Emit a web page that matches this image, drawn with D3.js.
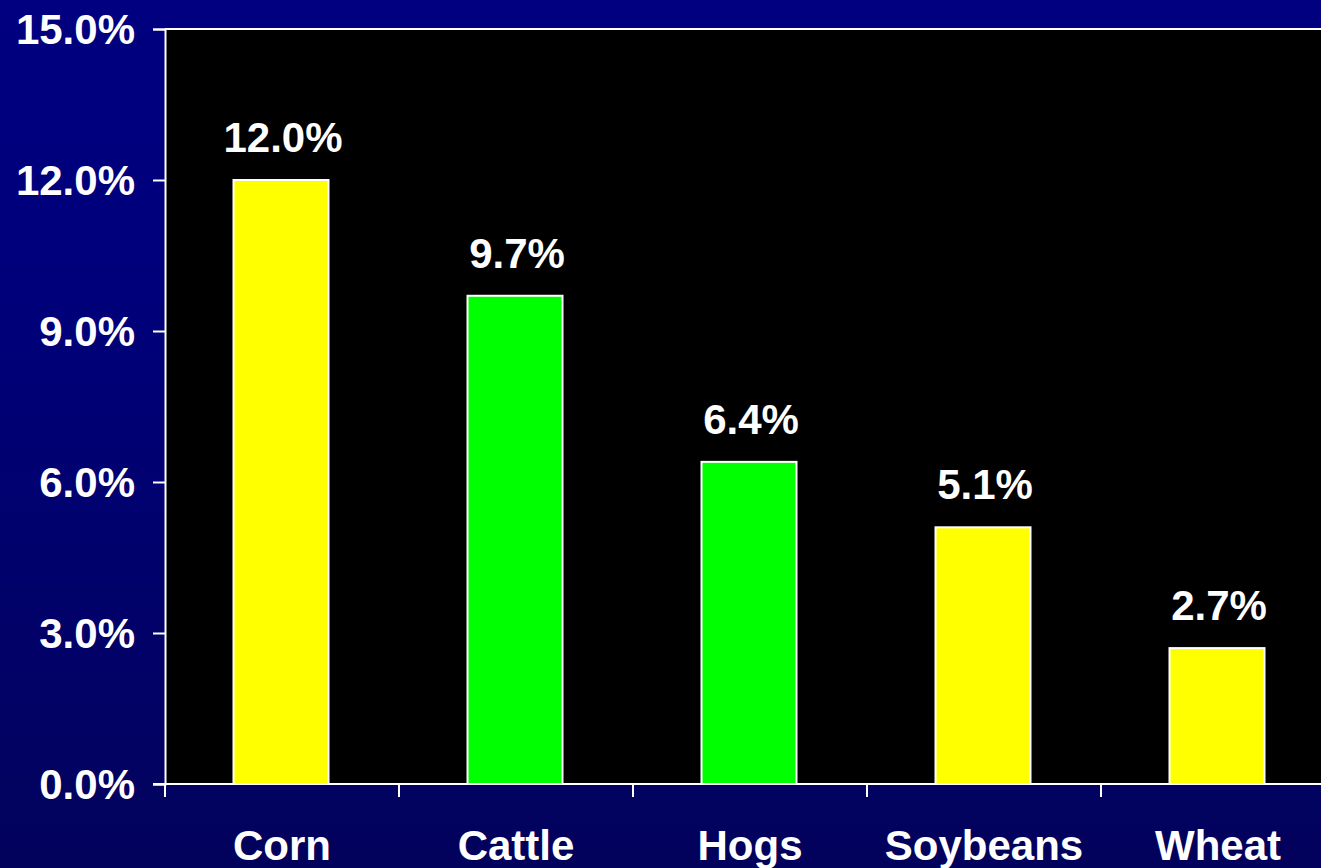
<!DOCTYPE html>
<html><head><meta charset="utf-8">
<script src="https://cdn.jsdelivr.net/npm/d3@7"></script>
<style>html,body{margin:0;padding:0;overflow:hidden;background:#000070}</style>
</head><body>
<script>
const categories = ["Corn","Cattle","Hogs","Soybeans","Wheat"];
const values = [12.0, 9.7, 6.4, 5.1, 2.7];
const barColors = ["#ffff00","#00ff00","#00ff00","#ffff00","#ffff00"];
const yTicks = [0, 3, 6, 9, 12, 15];

(function(){
const W = 1321, H = 868;
const svg = d3.select("body").append("svg").attr("width", W).attr("height", H).style("display","block");
const defs = svg.append("defs");
const grad = defs.append("linearGradient").attr("id","bg").attr("x1",0).attr("y1",0).attr("x2",0).attr("y2",1);
grad.append("stop").attr("offset","0%").attr("stop-color","#000080");
grad.append("stop").attr("offset","30%").attr("stop-color","#00007c");
grad.append("stop").attr("offset","100%").attr("stop-color","#02025c");
svg.append("rect").attr("width",W).attr("height",H).attr("fill","url(#bg)");

const pLeft = 165, pTop = 29, pBottom = 784, bandW = 234;
const x = d3.scaleBand().domain(categories).range([pLeft, pLeft + bandW*categories.length]).padding(0);
const y = d3.scaleLinear().domain([0,15]).range([pBottom, pTop]);

svg.append("rect").attr("x",pLeft).attr("y",pTop).attr("width",W-pLeft+10).attr("height",pBottom-pTop).attr("fill","#000");

const font = "'Liberation Sans', Arial, sans-serif";
const fs = "42px";

const bw = 95;
svg.selectAll("rect.bar").data(values).enter().append("rect").attr("class","bar")
  .attr("x",(d,i)=>x(categories[i]) + x.bandwidth()/2 - bw/2 - 1)
  .attr("y",d=>y(d)).attr("width",bw).attr("height",d=>pBottom - y(d))
  .attr("fill",(d,i)=>barColors[i]).attr("stroke","#fff").attr("stroke-width",2);

svg.selectAll("text.val").data(values).enter().append("text").attr("class","val")
  .attr("x",(d,i)=>x(categories[i]) + x.bandwidth()/2 + 1)
  .attr("y",d=>y(d) - 28)
  .attr("text-anchor","middle").attr("fill","#fff")
  .style("font-family",font).style("font-weight","bold").style("font-size",fs)
  .text(d=>d.toFixed(1)+"%");

const yAxis = d3.axisLeft(y).tickValues(yTicks).tickSize(12).tickPadding(18).tickFormat(d=>d.toFixed(1)+"%");
const gy = svg.append("g").attr("transform",`translate(${pLeft},0)`).call(yAxis);
gy.select(".domain").attr("stroke","#fff").attr("stroke-width",2);
gy.selectAll(".tick line").attr("stroke","#fff").attr("stroke-width",2);
gy.selectAll(".tick text").attr("fill","#fff").attr("dy","0.35em")
  .style("font-family",font).style("font-weight","bold").style("font-size",fs);

svg.append("line").attr("x1",pLeft).attr("x2",W).attr("y1",pTop).attr("y2",pTop).attr("stroke","#fff").attr("stroke-width",2);

const xAxis = d3.axisBottom(x).tickSize(0).tickPadding(48);
const gx = svg.append("g").attr("transform",`translate(0,${pBottom})`).call(xAxis);
gx.select(".domain").remove();
gx.selectAll(".tick text").attr("fill","#fff").attr("dy","0")
  .attr("y", 76)
  .style("font-family",font).style("font-weight","bold").style("font-size",fs);
svg.append("line").attr("x1",pLeft-12).attr("x2",W).attr("y1",pBottom).attr("y2",pBottom).attr("stroke","#fff").attr("stroke-width",2);
svg.selectAll("line.xt").data(categories).enter().append("line").attr("class","xt")
  .attr("x1",d=>x(d)).attr("x2",d=>x(d)).attr("y1",pBottom).attr("y2",pBottom+13)
  .attr("stroke","#fff").attr("stroke-width",2);
})();
</script>
</body></html>
